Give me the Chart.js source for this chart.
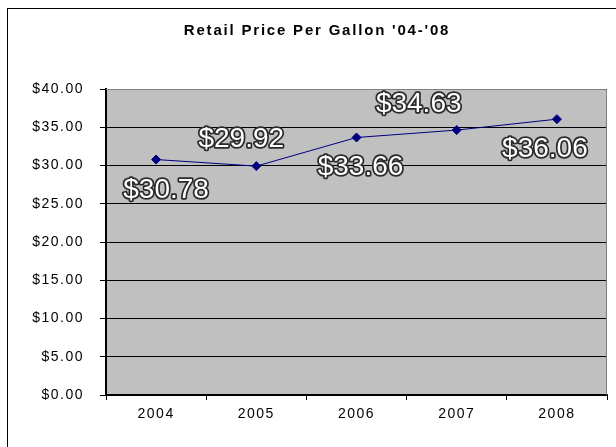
<!DOCTYPE html>
<html>
<head>
<meta charset="utf-8">
<script src="https://cdn.jsdelivr.net/npm/chart.js@4/dist/chart.umd.min.js"></script>
<style>
  body { margin: 0; background: #fff; }
  canvas { display: block; }
</style>
</head>
<body>
<canvas id="priceChart" width="616" height="447"></canvas>
<script>
// data
var years = ['2004', '2005', '2006', '2007', '2008'];
var prices = [30.78, 29.92, 33.66, 34.63, 36.06];
var priceLabels = ['$30.78', '$29.92', '$33.66', '$34.63', '$36.06'];
var yMin = 0;
var yMax = 40;
var yStep = 5;

// where each value label sits relative to its point (px)
var labelOffsets = [[10, 28], [-15, -29], [4, 27], [-38, -28], [-12, 28]];

var excelLook = {
  id: 'excelLook',
  beforeDraw: function(chart) {
    var ctx = chart.ctx, a = chart.chartArea;
    ctx.save();
    // outer chart frame
    ctx.strokeStyle = '#000';
    ctx.lineWidth = 1;
    ctx.strokeRect(7.5, 8.5, 700, 600);
    // plot area fill
    ctx.fillStyle = '#c0c0c0';
    ctx.fillRect(a.left, a.top, a.right - a.left, a.bottom - a.top);
    // title
    ctx.fillStyle = '#000';
    ctx.font = 'bold 15px "Liberation Sans", Arial, sans-serif';
    ctx.letterSpacing = '1.8px';
    ctx.textAlign = 'center';
    ctx.textBaseline = 'middle';
    ctx.fillText("Retail Price Per Gallon '04-'08", 317, 31);
    ctx.restore();
    // slightly wider axis text, like the original
    ctx.letterSpacing = '1.5px';
  },
  beforeDatasetsDraw: function(chart) {
    var ctx = chart.ctx, a = chart.chartArea;
    ctx.save();
    ctx.letterSpacing = '0px';
    ctx.strokeStyle = '#808080';
    ctx.lineWidth = 1;
    ctx.beginPath();
    ctx.moveTo(a.left, a.top + 0.5);
    ctx.lineTo(a.right - 0.5, a.top + 0.5);
    ctx.lineTo(a.right - 0.5, a.bottom);
    ctx.stroke();
    ctx.restore();
  },
  afterDraw: function(chart) {
    var ctx = chart.ctx;
    var meta = chart.getDatasetMeta(0);
    ctx.save();
    ctx.letterSpacing = '0px';
    ctx.font = '28px "Liberation Sans", Arial, sans-serif';
    ctx.textAlign = 'center';
    ctx.textBaseline = 'alphabetic';
    ctx.lineJoin = 'round';
    meta.data.forEach(function(pt, i) {
      var x = pt.x + labelOffsets[i][0];
      var y = pt.y + labelOffsets[i][1] + 10;
      ctx.lineWidth = 3.5;
      ctx.strokeStyle = '#2a2a2a';
      ctx.strokeText(priceLabels[i], x, y);
      ctx.fillStyle = '#fff';
      ctx.fillText(priceLabels[i], x, y);
    });
    ctx.restore();
  }
};

var ctx = document.getElementById('priceChart').getContext('2d');
var chart = new Chart(ctx, {
  type: 'line',
  data: {
    labels: years,
    datasets: [{
      data: prices,
      borderColor: '#000080',
      backgroundColor: '#000080',
      borderWidth: 1,
      pointStyle: 'rectRot',
      pointRadius: 4.5,
      pointBorderWidth: 1,
      fill: false,
      tension: 0
    }]
  },
  options: {
    responsive: false,
    animation: false,
    layout: { padding: { left: 0, top: 89, right: 9, bottom: 0 } },
    plugins: {
      legend: { display: false },
      title: { display: false },
      tooltip: { enabled: false }
    },
    scales: {
      x: {
        offset: true,
        afterFit: function(s) { s.height = 52; },
        grid: {
          offset: true,
          drawOnChartArea: false,
          drawTicks: true,
          tickLength: 5,
          color: '#000'
        },
        border: { color: '#000', width: 2 },
        ticks: {
          color: '#000',
          padding: 6,
          font: { family: '"Liberation Sans", Arial, sans-serif', size: 14 },
          maxRotation: 0
        }
      },
      y: {
        min: yMin,
        max: yMax,
        afterFit: function(s) { s.width = 106; },
        grid: {
          color: '#000',
          lineWidth: 1,
          tickLength: 6
        },
        border: { color: '#000', width: 2 },
        ticks: {
          stepSize: yStep,
          color: '#000',
          padding: 16,
          font: { family: '"Liberation Sans", Arial, sans-serif', size: 14 },
          callback: function(v) { return '$' + v.toFixed(2); }
        }
      }
    }
  },
  plugins: [excelLook]
});
</script>
</body>
</html>
